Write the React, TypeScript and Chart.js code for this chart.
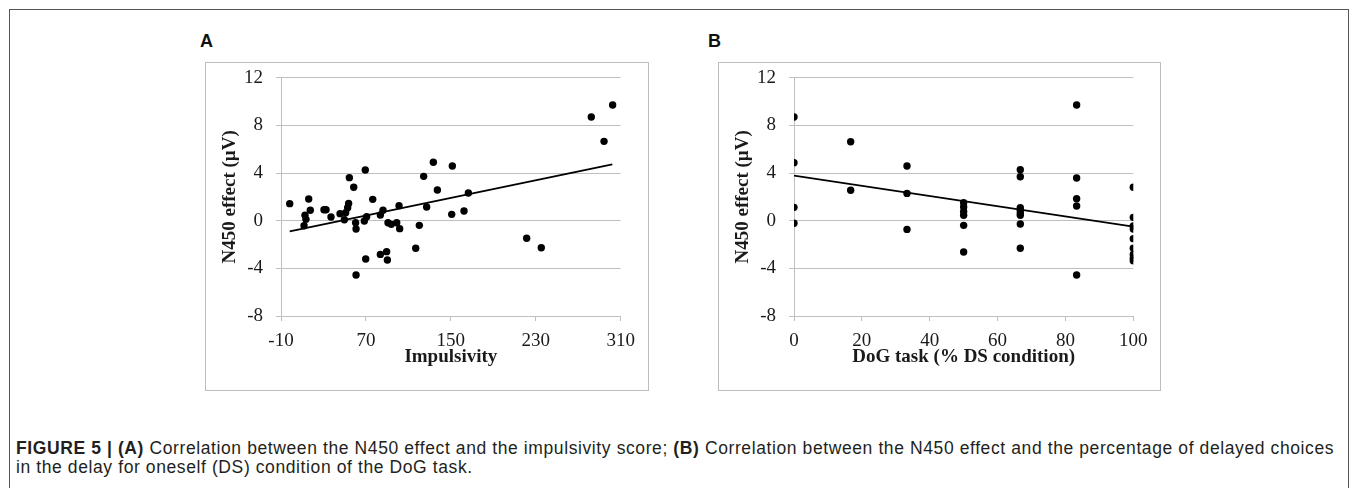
import React, { useEffect, useRef } from "react";
import { Chart, registerables } from "chart.js";

Chart.register(...registerables);

// ---------- Data ----------
const impulsivityX = [
  -1.8, 11.7, 12.6, 13.5, 16.1, 17.6, 30.5, 32.4, 37.1, 45.6, 49.7, 50.9, 52.8, 53.7, 54.4,
  58.5, 60.3, 60.7, 60.7, 68.5, 69.4, 69.8, 70.7, 76.4, 83.6, 83.6, 86.1, 89.5, 90.2, 90.8,
  93.9, 99.0, 101.2, 101.8, 116.9, 120.3, 124.4, 127.2, 133.5, 137.3, 150.8, 151.4, 162.4,
  166.5, 221.4, 235.2, 282.3, 294.3, 302.4,
];
const impulsivityN450 = [
  1.43, -0.42, 0.45, 0.11, 1.82, 0.87, 0.92, 0.92, 0.31, 0.59, 0.08, 0.67, 1.09, 1.45, 3.61,
  2.8, -0.17, -0.7, -4.56, -0.03, 4.25, -3.22, 0.34, 1.79, 0.48, -2.83, 0.87, -2.6, -3.3, -0.17,
  -0.31, -0.17, 1.26, -0.67, -2.32, -0.39, 3.72, 1.15, 4.9, 2.57, 0.53, 4.59, 0.81,
  2.32, -1.48, -2.27, 8.7, 6.66, 9.71,
];
const impulsivityTrendX = [-1.8, 302.1];
const impulsivityTrendY = [-0.9, 4.73];

const dogX = [
  0, 0, 0, 0,
  16.7, 16.7,
  33.3, 33.3, 33.3,
  50, 50, 50, 50, 50, 50,
  66.7, 66.7, 66.7, 66.7, 66.7, 66.7, 66.7, 66.7,
  83.3, 83.3, 83.3, 83.3, 83.3,
  100, 100, 100, 100, 100, 100, 100, 100, 100,
];
const dogN450 = [
  8.7, 4.87, 1.12, -0.22,
  6.63, 2.55,
  4.59, 2.29, -0.73,
  1.51, 1.15, 0.76, 0.45, -0.39, -2.63,
  4.28, 3.69, 1.09, 0.87, 0.64, 0.45, -0.28, -2.32,
  9.71, 3.58, 1.85, 1.23, -4.56,
  2.8, 0.28, -0.45, -0.7, -1.51, -2.32, -2.83, -3.13, -3.36,
];
const dogTrendX = [0, 100];
const dogTrendY = [3.78, -0.5];

const xTicksA = [-10, 70, 150, 230, 310];
const xTicksB = [0, 20, 40, 60, 80, 100];
const yTicks = [-8, -4, 0, 4, 8, 12];

const xTitleA = "Impulsivity";
const xTitleB = "DoG task (% DS condition)";
const yTitle = "N450 effect (\u00b5V)";

// ---------- Panel ----------
type PanelProps = {
  xs: number[];
  ys: number[];
  tx: number[];
  ty: number[];
  xTicks: number[];
  xTitle: string;
  width: number;
  height: number;
  chartRight: number;
};

const GRID = "#bfbfbf";
const TXT = "#1a1a1a";
const SERIF = "'Liberation Serif', 'Times New Roman', serif";

function Panel({ xs, ys, tx, ty, xTicks, xTitle, width, height, chartRight }: PanelProps) {
  const ref = useRef<HTMLCanvasElement | null>(null);
  useEffect(() => {
    if (!ref.current) return;
    const chart = new Chart(ref.current, {
      type: "scatter",
      data: {
        datasets: [
          {
            type: "scatter",
            data: xs.map((x, i) => ({ x, y: ys[i] })),
            backgroundColor: "#000",
            borderColor: "#000",
            borderWidth: 0,
            pointRadius: 3.7,
            order: 1,
          },
          {
            type: "line",
            data: tx.map((x, i) => ({ x, y: ty[i] })),
            borderColor: "#000",
            borderWidth: 1.8,
            pointRadius: 0,
            fill: false,
            order: 0,
          } as any,
        ],
      },
      options: {
        responsive: false,
        animation: false,
        events: [],
        layout: { padding: { top: 14.7, right: width - chartRight, bottom: 0, left: 0 } },
        plugins: { legend: { display: false }, tooltip: { enabled: false }, title: { display: false } },
        scales: {
          x: {
            type: "linear",
            min: xTicks[0],
            max: xTicks[xTicks.length - 1],
            afterBuildTicks: (s: any) => {
              s.ticks = xTicks.map((v) => ({ value: v }));
            },
            afterFit: (s: any) => {
              s.height = 74;
              s.paddingLeft = 0;
              s.paddingRight = 0;
            },
            grid: { drawOnChartArea: false, drawTicks: true, tickLength: 5, color: GRID },
            border: { display: true, color: GRID, width: 1 },
            ticks: {
              color: TXT,
              padding: 8.3,
              maxRotation: 0,
              autoSkip: false,
              font: { family: SERIF, size: 19 },
            },
            title: {
              display: true,
              text: xTitle,
              color: TXT,
              padding: { top: 0, bottom: 21.3 },
              font: { family: SERIF, size: 19, weight: "bold" },
            },
          },
          y: {
            type: "linear",
            min: -8,
            max: 12,
            afterBuildTicks: (s: any) => {
              s.ticks = yTicks.map((v) => ({ value: v }));
            },
            afterFit: (s: any) => {
              s.width = 75;
              s.paddingTop = 0;
              s.paddingBottom = 0;
            },
            grid: { drawOnChartArea: true, drawTicks: true, tickLength: 5, color: GRID },
            border: { display: true, color: GRID, width: 1 },
            ticks: {
              color: TXT,
              padding: 13,
              autoSkip: false,
              font: { family: SERIF, size: 19 },
            },
            title: {
              display: true,
              text: yTitle,
              color: TXT,
              padding: { top: 12.6, bottom: 0 },
              font: { family: SERIF, size: 19, weight: "bold" },
            },
          },
        },
      } as any,
    });
    return () => chart.destroy();
  }, []);
  return <canvas ref={ref} width={width} height={height} style={{ width, height, display: "block" }} />;
}

export default function App() {
  const boxStyle = (left: number, width: number): React.CSSProperties => ({
    position: "absolute",
    left,
    top: 62,
    width,
    height: 327,
    border: "1px solid #bdbdbd",
    background: "#fff",
  });
  const letter = (left: number, text: string) => (
    <div
      style={{
        position: "absolute",
        left,
        top: 31,
        fontFamily: "'Liberation Sans', Arial, sans-serif",
        fontWeight: "bold",
        fontSize: 18,
        lineHeight: "20px",
        color: "#111",
      }}
    >
      {text}
    </div>
  );
  return (
    <div
      style={{
        position: "fixed",
        left: 0,
        top: 0,
        width: 1352,
        height: 488,
        overflow: "hidden",
        background: "#fff",
      }}
    >
      <div
        style={{
          position: "absolute",
          left: 9,
          top: 9,
          width: 1338,
          height: 520,
          border: "1px solid #555",
        }}
      />
      {letter(200, "A")}
      {letter(708, "B")}
      <div style={boxStyle(205, 442)}>
        <Panel
          xs={impulsivityX}
          ys={impulsivityN450}
          tx={impulsivityTrendX}
          ty={impulsivityTrendY}
          xTicks={xTicksA}
          xTitle={xTitleA}
          width={442}
          height={327}
          chartRight={414.7}
        />
      </div>
      <div style={boxStyle(718, 441)}>
        <Panel
          xs={dogX}
          ys={dogN450}
          tx={dogTrendX}
          ty={dogTrendY}
          xTicks={xTicksB}
          xTitle={xTitleB}
          width={441}
          height={327}
          chartRight={414.3}
        />
      </div>
      <div
        style={{
          position: "absolute",
          left: 16,
          top: 438.7,
          whiteSpace: "nowrap",
          fontFamily: "'Liberation Sans', Arial, sans-serif",
          fontSize: 17.5,
          letterSpacing: "0.6px",
          lineHeight: "19px",
          color: "#231f20",
        }}
      >
        <b>FIGURE 5 | (A)</b> Correlation between the N450 effect and the impulsivity score; <b>(B)</b> Correlation
        between the N450 effect and the percentage of delayed choices
        <br />
        in the delay for oneself (DS) condition of the DoG task.
      </div>
    </div>
  );
}
